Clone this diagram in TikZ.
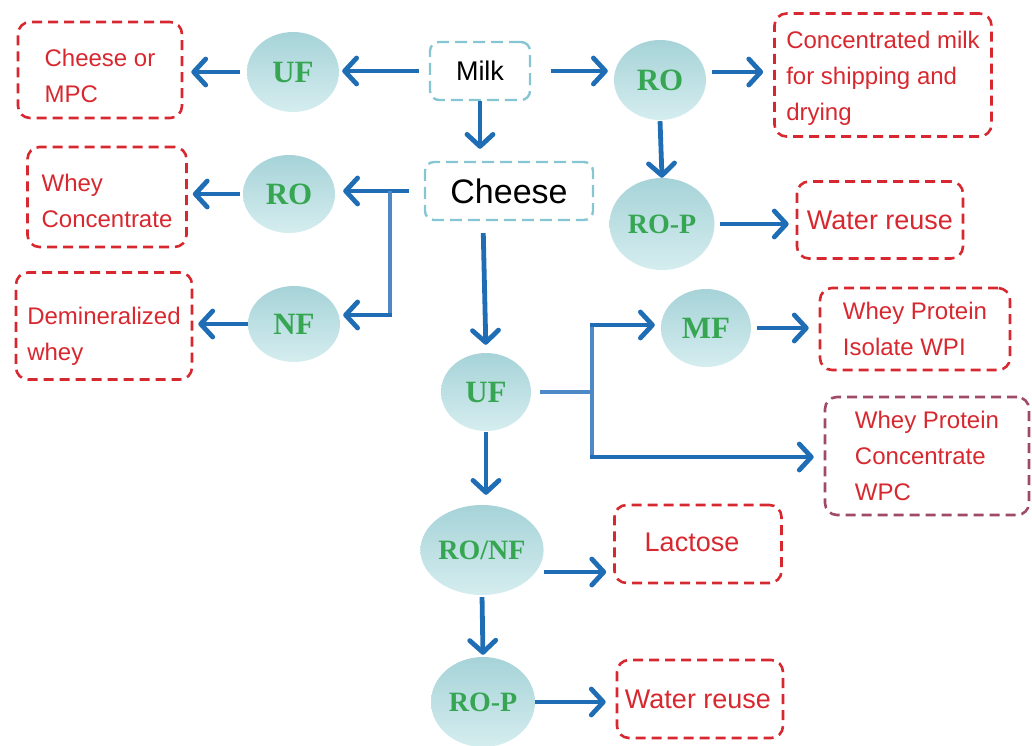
\documentclass[tikz,border=0pt]{standalone}
\usepackage{fontspec}
\setmainfont{Liberation Sans}
\newfontfamily\labfont{Liberation Serif}
\usetikzlibrary{arrows.meta,shapes.geometric,calc}
\definecolor{flowblue}{HTML}{1F6DB4}
\definecolor{brblue}{HTML}{4F88C7}
\definecolor{outred}{HTML}{D7282F}
\definecolor{wpcborder}{HTML}{A04A6A}
\definecolor{inblue}{HTML}{86C6D3}
\definecolor{proctop}{HTML}{A6D3D8}
\definecolor{procbot}{HTML}{D5EDEF}
\definecolor{procgreen}{HTML}{37A653}
\newcommand{\dn}[1]{\rule{0pt}{#1pt}}
\begin{document}
\begin{tikzpicture}[x=1pt,y=-1pt,
  flow/.style={draw=flowblue, line width=4.8pt, -{Straight Barb[length=12pt,width=26pt,round]}},
  bracket/.style={draw=brblue, line width=4pt},
  proc/.style={ellipse, shading=axis, top color=proctop, bottom color=procbot, draw=none,
    font=\labfont\bfseries\fontsize{31}{31}\selectfont, text=procgreen, inner sep=0pt},
  procs/.style={proc, font=\labfont\bfseries\fontsize{28}{28}\selectfont},
  outbox/.style={draw=outred, line width=2.6pt, dash pattern=on 10pt off 6pt, rounded corners=12pt,
    align=left, text=outred, font=\fontsize{24}{36}\selectfont, inner sep=0pt},
  bigtext/.style={font=\fontsize{27}{36}\selectfont},
  inbox/.style={draw=inblue, line width=2.4pt, dash pattern=on 12pt off 6pt, rounded corners=9pt,
    text=black, inner sep=0pt}
]
\useasboundingbox (0,0) rectangle (1032,745);

% input boxes
\node[inbox, minimum width=100pt, minimum height=58pt, font=\fontsize{27}{27}\selectfont] (milk) at (480,71) {Milk};
\node[inbox, minimum width=168pt, minimum height=58pt, font=\fontsize{34}{34}\selectfont] (cheese) at (509,191) {Cheese};

% process ellipses
\node[proc, minimum width=92pt, minimum height=80pt] (uf1) at (293,72) {UF};
\node[proc, minimum width=92pt, minimum height=80pt] (ro1) at (660,80) {RO};
\node[procs, minimum width=105pt, minimum height=92pt] (rop1) at (662,224) {RO-P};
\node[proc, minimum width=92pt, minimum height=78pt] (ro2) at (289,194) {RO};
\node[proc, minimum width=92pt, minimum height=76pt] (nf) at (294,324) {NF};
\node[proc, minimum width=90pt, minimum height=78pt] (uf2) at (486,392) {UF};
\node[proc, minimum width=90pt, minimum height=78pt] (mf) at (706,328) {MF};
\node[procs, minimum width=110pt, minimum height=90pt] (ronf) at (482,550) {RO/NF};
\node[procs, minimum width=104pt, minimum height=90pt] (rop2) at (483,702) {RO-P};

% output boxes
\node[outbox, minimum width=164pt, minimum height=96pt] (cheesempc) at (100,70) {\dn{29.5}Cheese or\\MPC};
\node[outbox, minimum width=159pt, minimum height=100pt] (wheyconc) at (107,197) {\dn{25.5}Whey\\Concentrate};
\node[outbox, minimum width=176pt, minimum height=107pt] (demin) at (104,326) {\dn{37.5}Demineralized\\whey};
\node[outbox, minimum width=217pt, minimum height=123pt] (concmilk) at (883,75) {\dn{23.5}Concentrated milk\\for shipping and\\drying};
\node[outbox, bigtext, minimum width=166pt, minimum height=77pt] (water1) at (880,220) {Water reuse};
\node[outbox, minimum width=190pt, minimum height=82pt] (wpi) at (915,329) {Whey Protein\\Isolate WPI};
\node[outbox, draw=wpcborder, minimum width=204pt, minimum height=118pt] (wpc) at (927,456) {Whey Protein\\Concentrate\\WPC};
\node[outbox, bigtext, minimum width=167pt, minimum height=78pt] (lactose) at (698,544) {\raisebox{3pt}{Lactose}\hspace{12pt}};
\node[outbox, bigtext, minimum width=166pt, minimum height=78pt] (water2) at (700,699) {Water reuse\hspace{4pt}};

% bracket junction coordinates
\coordinate (cj) at (390,191);
\coordinate (ck) at (390,315);
\coordinate (uj) at (592,392);
\coordinate (ua) at (592,325);
\coordinate (ub) at (592,457);

% connectors
\draw[flow, shorten <=7pt, shorten >=8pt] (uf1.west) -- (uf1.west -| cheesempc.east);
\draw[flow, shorten <=10pt, shorten >=3pt] (milk.west) -- (milk.west -| uf1.east);
\draw[flow, shorten <=20pt, shorten >=6pt] (milk.east) -- (milk.east -| ro1.west);
\draw[flow, shorten <=6pt, shorten >=10pt] ([yshift=8pt]ro1.east) -- ([yshift=8pt]ro1.east -| concmilk.west);
\draw[flow, shorten <=1pt, shorten >=0pt] (ro1.south) -- (rop1.north);
\draw[flow, shorten <=5pt, shorten >=7pt] (rop1.east) -- (rop1.east -| water1.west);
\draw[flow, shorten >=12pt] (milk.south) -- (milk.south |- cheese.north);
\draw[flow, shorten <=12pt, shorten >=8pt] ([xshift=-26pt]cheese.south) -- (uf2.north);

\draw[flow, shorten <=15pt, shorten >=8pt] (cheese.west) -- (cheese.west -| ro2.east);
\draw[bracket] (cj) -- (ck);
\draw[flow, shorten >=3pt] ([xshift=2pt]ck) -- (ck -| nf.east);
\draw[flow, shorten <=3pt, shorten >=5pt] (ro2.west) -- (ro2.west -| wheyconc.east);
\draw[flow, shorten >=5pt] (nf.west) -- (nf.west -| demin.east);

\draw[bracket] ([xshift=9pt]uf2.east) -- (uj);
\draw[bracket] ([yshift=2pt]ua) -- ([yshift=-2pt]ub);
\draw[flow, shorten >=6pt] ([xshift=-2pt]ua) -- (ua -| mf.west);
\draw[flow, shorten >=10pt] ([xshift=-2pt]ub) -- (ub -| wpc.west);
\draw[flow, shorten <=6pt, shorten >=10pt] (mf.east) -- (mf.east -| wpi.west);

\draw[flow, shorten <=1pt, shorten >=10pt] (uf2.south) -- (uf2.south |- ronf.north);
\draw[flow, shorten >=7pt] ([yshift=-22pt]ronf.east) -- ([yshift=-22pt]ronf.east -| lactose.west);
\draw[flow, shorten <=2pt, shorten >=2pt] (ronf.south) -- (rop2.north);
\draw[flow, shorten >=10pt] (rop2.east) -- (rop2.east -| water2.west);
\end{tikzpicture}
\end{document}
